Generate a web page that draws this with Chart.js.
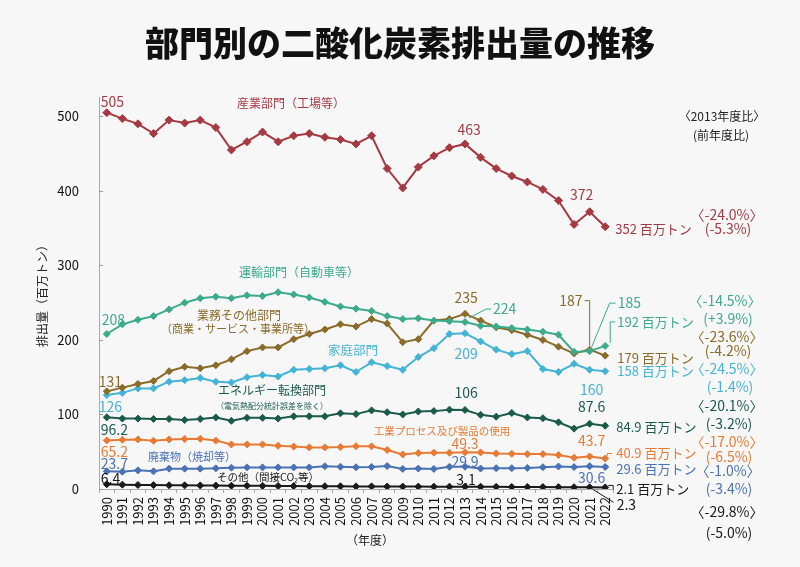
<!DOCTYPE html>
<html lang="ja">
<head>
<meta charset="utf-8">
<title>部門別の二酸化炭素排出量の推移</title>
<script src="https://cdn.jsdelivr.net/npm/chart.js@4.4.1/dist/chart.umd.min.js"></script>
<style>
  html, body { margin: 0; padding: 0; background: #f7f7f7; }
  #wrap { width: 800px; height: 567px; }
</style>
</head>
<body>
<div id="wrap"><canvas id="co2-chart" width="800" height="567"></canvas></div>
<script>
var FONT = '"Noto Sans CJK JP", "Noto Sans", sans-serif';

// 年度
var years = ['1990', '1991', '1992', '1993', '1994', '1995', '1996', '1997', '1998', '1999',
             '2000', '2001', '2002', '2003', '2004', '2005', '2006', '2007', '2008', '2009',
             '2010', '2011', '2012', '2013', '2014', '2015', '2016', '2017', '2018', '2019',
             '2020', '2021', '2022'];

// 排出量（百万トン）
var industry   = [505, 497, 490, 477, 495, 491, 495, 485, 455, 466, 479, 466, 474, 477, 472, 469, 463,
                  474, 430, 404, 432, 447, 458, 463, 445, 430, 420, 412, 402, 387, 355, 372, 352];
var transport  = [208, 221, 227, 232, 241, 250, 256, 258, 256, 260, 259, 264, 261, 257, 251, 245, 242,
                  239, 232, 228, 229, 226, 225, 224, 219, 218, 216, 214, 211, 207, 184, 185, 192];
var commercial = [131, 136, 141, 145, 158, 164, 162, 166, 174, 185, 190, 190, 201, 208, 214, 221, 218,
                  228, 222, 197, 201, 226, 228, 235, 226, 217, 213, 207, 200, 191, 182, 187, 179];
var household  = [126, 129, 135, 135, 144, 146, 149, 144, 143, 150, 153, 151, 160, 161, 162, 166, 157,
                  170, 165, 160, 177, 189, 208, 209, 198, 187, 181, 185, 161, 157, 168, 160, 158];
var energy     = [96.2, 94.5, 94.5, 94, 94, 92.5, 94, 96, 91.5, 95.5, 95.5, 94.5, 97.5, 97.5, 97.5, 101.5, 100.5,
                  105.5, 103, 100, 104, 104.5, 106.5, 106, 99.5, 97, 102, 96, 95, 89.5, 81, 87.6, 84.9];
var process    = [65.2, 66, 66.5, 64.7, 66.5, 67, 67.3, 65, 59.8, 59.8, 59.8, 58, 57, 55.8, 55.8, 56.2, 57.5,
                  57.2, 52.3, 46.4, 48.2, 48.7, 48.7, 49.3, 49.1, 47.7, 47.3, 46.8, 46.8, 45.5, 42, 43.7, 40.9];
var waste      = [23.7, 23.2, 25, 23.7, 27.3, 27.3, 27.3, 27.7, 28.6, 29, 29, 29, 29, 29, 30.5, 29.8, 29.2,
                  29.6, 30.8, 27, 27.4, 27, 29.8, 29.9, 27.4, 27.9, 27.9, 28.3, 29.3, 30.2, 29.4, 30.6, 29.6];
var other      = [6.4, 5.8, 5.4, 5.2, 5.0, 4.9, 4.8, 4.6, 4.4, 4.3, 4.2, 4.0, 3.9, 3.8, 3.7, 3.6, 3.5,
                  3.5, 3.3, 3.2, 3.2, 3.1, 3.1, 3.1, 3.0, 2.9, 2.8, 2.7, 2.6, 2.5, 2.4, 2.3, 2.1];

var yTicks = [0, 100, 200, 300, 400, 500];

var C_IND = '#a63a43', C_TRA = '#3daa8c', C_COM = '#8a6b2a', C_HOM = '#45b3d6',
    C_ENE = '#1b5b4b', C_PRO = '#e77b36', C_WAS = '#4a72b5', C_OTH = '#1a1a1a';

// データ点に付ける数値ラベル
var pointLabels = [
  { ds: 0, i: 0,  text: '505', dx: -6, dy: -11, align: 'left' },
  { ds: 0, i: 23, text: '463', dx: 4,  dy: -14 },
  { ds: 0, i: 31, text: '372', dx: -8, dy: -17 },
  { ds: 0, i: 32, text: '352 百万トン', dx: 10, dy: 2, align: 'left', size: 13 },

  { ds: 1, i: 0,  text: '208', dx: -5, dy: -14, align: 'left' },
  { ds: 1, i: 23, text: '224', dx: 28, dy: -13, align: 'left', leader: [[4, -4], [21, -13], [26, -13]] },
  { ds: 1, i: 31, text: '185', dx: 28, dy: -48, align: 'left', leader: [[2, -4], [20, -48], [26, -48]] },
  { ds: 1, i: 32, text: '192 百万トン', dx: 12, dy: -24, align: 'left', size: 13, leader: [[5, -3], [5, -24], [10, -24]] },

  { ds: 2, i: 0,  text: '131', dx: -8, dy: -10, align: 'left' },
  { ds: 2, i: 23, text: '235', dx: 1,  dy: -16 },
  { ds: 2, i: 31, text: '187', dx: -7, dy: -49, align: 'right', leader: [[-5, -49], [0, -49], [0, -4]] },
  { ds: 2, i: 32, text: '179 百万トン', dx: 12, dy: 2, align: 'left', size: 13 },

  { ds: 3, i: 0,  text: '126', dx: -8, dy: 12, align: 'left' },
  { ds: 3, i: 23, text: '209', dx: 1,  dy: 20 },
  { ds: 3, i: 31, text: '160', dx: 2,  dy: 20 },
  { ds: 3, i: 32, text: '158 百万トン', dx: 12, dy: 0, align: 'left', size: 13 },

  { ds: 4, i: 0,  text: '96.2', dx: -6, dy: 12, align: 'left' },
  { ds: 4, i: 23, text: '106',  dx: 1,  dy: -17 },
  { ds: 4, i: 31, text: '87.6', dx: 2,  dy: -17 },
  { ds: 4, i: 32, text: '84.9 百万トン', dx: 11, dy: 1, align: 'left', size: 13 },

  { ds: 5, i: 0,  text: '65.2', dx: -6, dy: 11, align: 'left' },
  { ds: 5, i: 23, text: '49.3', dx: 0,  dy: -9 },
  { ds: 5, i: 31, text: '43.7', dx: 2,  dy: -16 },
  { ds: 5, i: 32, text: '40.9 百万トン', dx: 11, dy: -5, align: 'left', size: 13, leader: [[2, -2], [2, -5], [7, -5]] },

  { ds: 6, i: 0,  text: '23.7', dx: -6, dy: -8, align: 'left' },
  { ds: 6, i: 23, text: '29.9', dx: 0,  dy: -5 },
  { ds: 6, i: 31, text: '30.6', dx: 2,  dy: 11 },
  { ds: 6, i: 32, text: '29.6 百万トン', dx: 11, dy: 2, align: 'left', size: 13 },

  { ds: 7, i: 0,  text: '6.4', dx: -6, dy: -6, align: 'left' },
  { ds: 7, i: 23, text: '3.1', dx: 1,  dy: -7 },
  { ds: 7, i: 31, text: '2.3', dx: 27, dy: 17, align: 'left', leader: [[3, 2], [24, 15]] },
  { ds: 7, i: 32, text: '2.1 百万トン', dx: 11, dy: 2, align: 'left', size: 13, leader: [[3, -2], [8, -2], [8, 2]] }
];

// 部門名・増減率などの注記
var notes = [
  { text: '産業部門（工場等）', x: 291, y: 103, size: 12, color: C_IND },
  { text: '運輸部門（自動車等）', x: 299, y: 272, size: 12, color: C_TRA },
  { text: '業務その他部門', x: 239, y: 315, size: 12, color: C_COM },
  { text: '（商業・サービス・事業所等）', x: 238, y: 329, size: 11, color: C_COM },
  { text: '家庭部門', x: 353, y: 350, size: 12.5, color: C_HOM },
  { text: 'エネルギー転換部門', x: 272, y: 390, size: 12, color: C_ENE },
  { text: '（電気熱配分統計誤差を除く）', x: 272, y: 406, size: 8, color: C_ENE },
  { text: '工業プロセス及び製品の使用', x: 442, y: 431, size: 10.5, color: C_PRO },
  { text: '廃棄物（焼却等）', x: 192, y: 457, size: 11, color: C_WAS },
  { text: 'その他（間接CO₂等）', x: 268, y: 477, size: 10.5, color: C_OTH },

  { text: '〈2013年度比〉', x: 722, y: 116, size: 12, color: '#222' },
  { text: '(前年度比)', x: 721, y: 135, size: 12, color: '#222' },
  { text: '〈-24.0%〉', x: 727, y: 215, size: 14, color: C_IND },
  { text: '(-5.3%)', x: 728, y: 229, size: 14, color: C_IND },
  { text: '〈-14.5%〉', x: 725, y: 301, size: 14, color: C_TRA },
  { text: '(+3.9%)', x: 728, y: 319, size: 14, color: C_TRA },
  { text: '〈-23.6%〉', x: 727, y: 337, size: 14, color: C_COM },
  { text: '(-4.2%)', x: 728, y: 351, size: 14, color: C_COM },
  { text: '〈-24.5%〉', x: 727, y: 369, size: 14, color: C_HOM },
  { text: '(-1.4%)', x: 730, y: 387, size: 14, color: C_HOM },
  { text: '〈-20.1%〉', x: 727, y: 406, size: 14, color: C_ENE },
  { text: '(-3.2%)', x: 729, y: 424, size: 14, color: C_ENE },
  { text: '〈-17.0%〉', x: 727, y: 442, size: 14, color: C_PRO },
  { text: '(-6.5%)', x: 729, y: 457, size: 14, color: C_PRO },
  { text: '〈-1.0%〉', x: 728, y: 471, size: 14, color: C_WAS },
  { text: '(-3.4%)', x: 729, y: 489, size: 14, color: C_WAS },
  { text: '〈-29.8%〉', x: 727, y: 512, size: 14, color: C_OTH },
  { text: '(-5.0%)', x: 729, y: 533, size: 14, color: C_OTH },

  { text: '（年度）', x: 370, y: 540, size: 12, color: '#222' }
];

function series(label, data, color, radius) {
  return {
    label: label,
    data: data,
    borderColor: color,
    backgroundColor: color,
    borderWidth: 2,
    pointStyle: 'rectRot',
    pointRadius: radius || 3.5,
    pointBorderWidth: 1,
    pointBackgroundColor: color,
    tension: 0
  };
}

var annotatePlugin = {
  id: 'annotate',
  beforeDraw: function (chart) {
    var ctx = chart.ctx;
    ctx.save();
    ctx.fillStyle = '#f7f7f7';
    ctx.fillRect(0, 0, chart.width, chart.height);
    ctx.restore();
  },
  afterDraw: function (chart) {
    var ctx = chart.ctx;
    var area = chart.chartArea;
    var y = chart.scales.y;
    ctx.save();

    // タイトル
    ctx.fillStyle = '#111';
    ctx.textAlign = 'center';
    ctx.textBaseline = 'middle';
    ctx.font = '900 34px ' + FONT;
    ctx.fillText('部門別の二酸化炭素排出量の推移', 400, 43);

    // 縦軸タイトル
    ctx.save();
    ctx.translate(42, 293);
    ctx.rotate(-Math.PI / 2);
    ctx.font = '12px ' + FONT;
    ctx.fillStyle = '#222';
    ctx.fillText('排出量（百万トン）', 0, 0);
    ctx.restore();

    // 内向きの目盛り
    ctx.strokeStyle = '#999';
    ctx.lineWidth = 1;
    yTicks.forEach(function (v) {
      var py = Math.round(y.getPixelForValue(v)) + 0.5;
      ctx.beginPath();
      ctx.moveTo(area.left, py);
      ctx.lineTo(area.left + 4, py);
      ctx.stroke();
    });

    // 数値ラベル
    pointLabels.forEach(function (lb) {
      var el = chart.getDatasetMeta(lb.ds).data[lb.i];
      var color = chart.data.datasets[lb.ds].borderColor;
      if (lb.leader) {
        ctx.strokeStyle = color;
        ctx.lineWidth = 1;
        ctx.beginPath();
        lb.leader.forEach(function (p, k) {
          if (k === 0) ctx.moveTo(el.x + p[0], el.y + p[1]);
          else ctx.lineTo(el.x + p[0], el.y + p[1]);
        });
        ctx.stroke();
      }
      ctx.font = (lb.size || 14) + 'px ' + FONT;
      ctx.fillStyle = color;
      ctx.textAlign = lb.align || 'center';
      ctx.fillText(lb.text, el.x + lb.dx, el.y + lb.dy);
    });

    // 注記
    notes.forEach(function (n) {
      ctx.font = n.size + 'px ' + FONT;
      ctx.fillStyle = n.color;
      ctx.textAlign = 'center';
      ctx.fillText(n.text, n.x, n.y);
    });

    ctx.restore();
  }
};

new Chart(document.getElementById('co2-chart'), {
  type: 'line',
  data: {
    labels: years,
    datasets: [
      series('産業部門', industry, C_IND, 4),
      series('運輸部門', transport, C_TRA),
      series('業務その他部門', commercial, C_COM),
      series('家庭部門', household, C_HOM),
      series('エネルギー転換部門', energy, C_ENE),
      series('工業プロセス及び製品の使用', process, C_PRO),
      series('廃棄物', waste, C_WAS),
      series('その他', other, C_OTH)
    ]
  },
  options: {
    responsive: false,
    animation: false,
    devicePixelRatio: 1,
    layout: { padding: { left: 0, top: 97, right: 187, bottom: 0 } },
    plugins: {
      legend: { display: false },
      tooltip: { enabled: false },
      title: { display: false }
    },
    scales: {
      x: {
        type: 'category',
        offset: true,
        afterFit: function (s) { s.height = 78; },
        border: { color: '#aaa' },
        grid: { display: true, drawOnChartArea: false, offset: true, tickLength: 4, color: '#aaa' },
        ticks: {
          autoSkip: false,
          minRotation: 90,
          maxRotation: 90,
          padding: 4,
          color: '#111',
          font: { family: FONT, size: 13 }
        }
      },
      y: {
        min: 0,
        max: 526,
        afterFit: function (s) { s.width = 99; },
        border: { color: '#aaa' },
        grid: { display: false, drawTicks: false },
        ticks: {
          stepSize: 100,
          includeBounds: false,
          padding: 20,
          color: '#111',
          font: { family: FONT, size: 13 }
        }
      }
    }
  },
  plugins: [annotatePlugin]
});
</script>
</body>
</html>
